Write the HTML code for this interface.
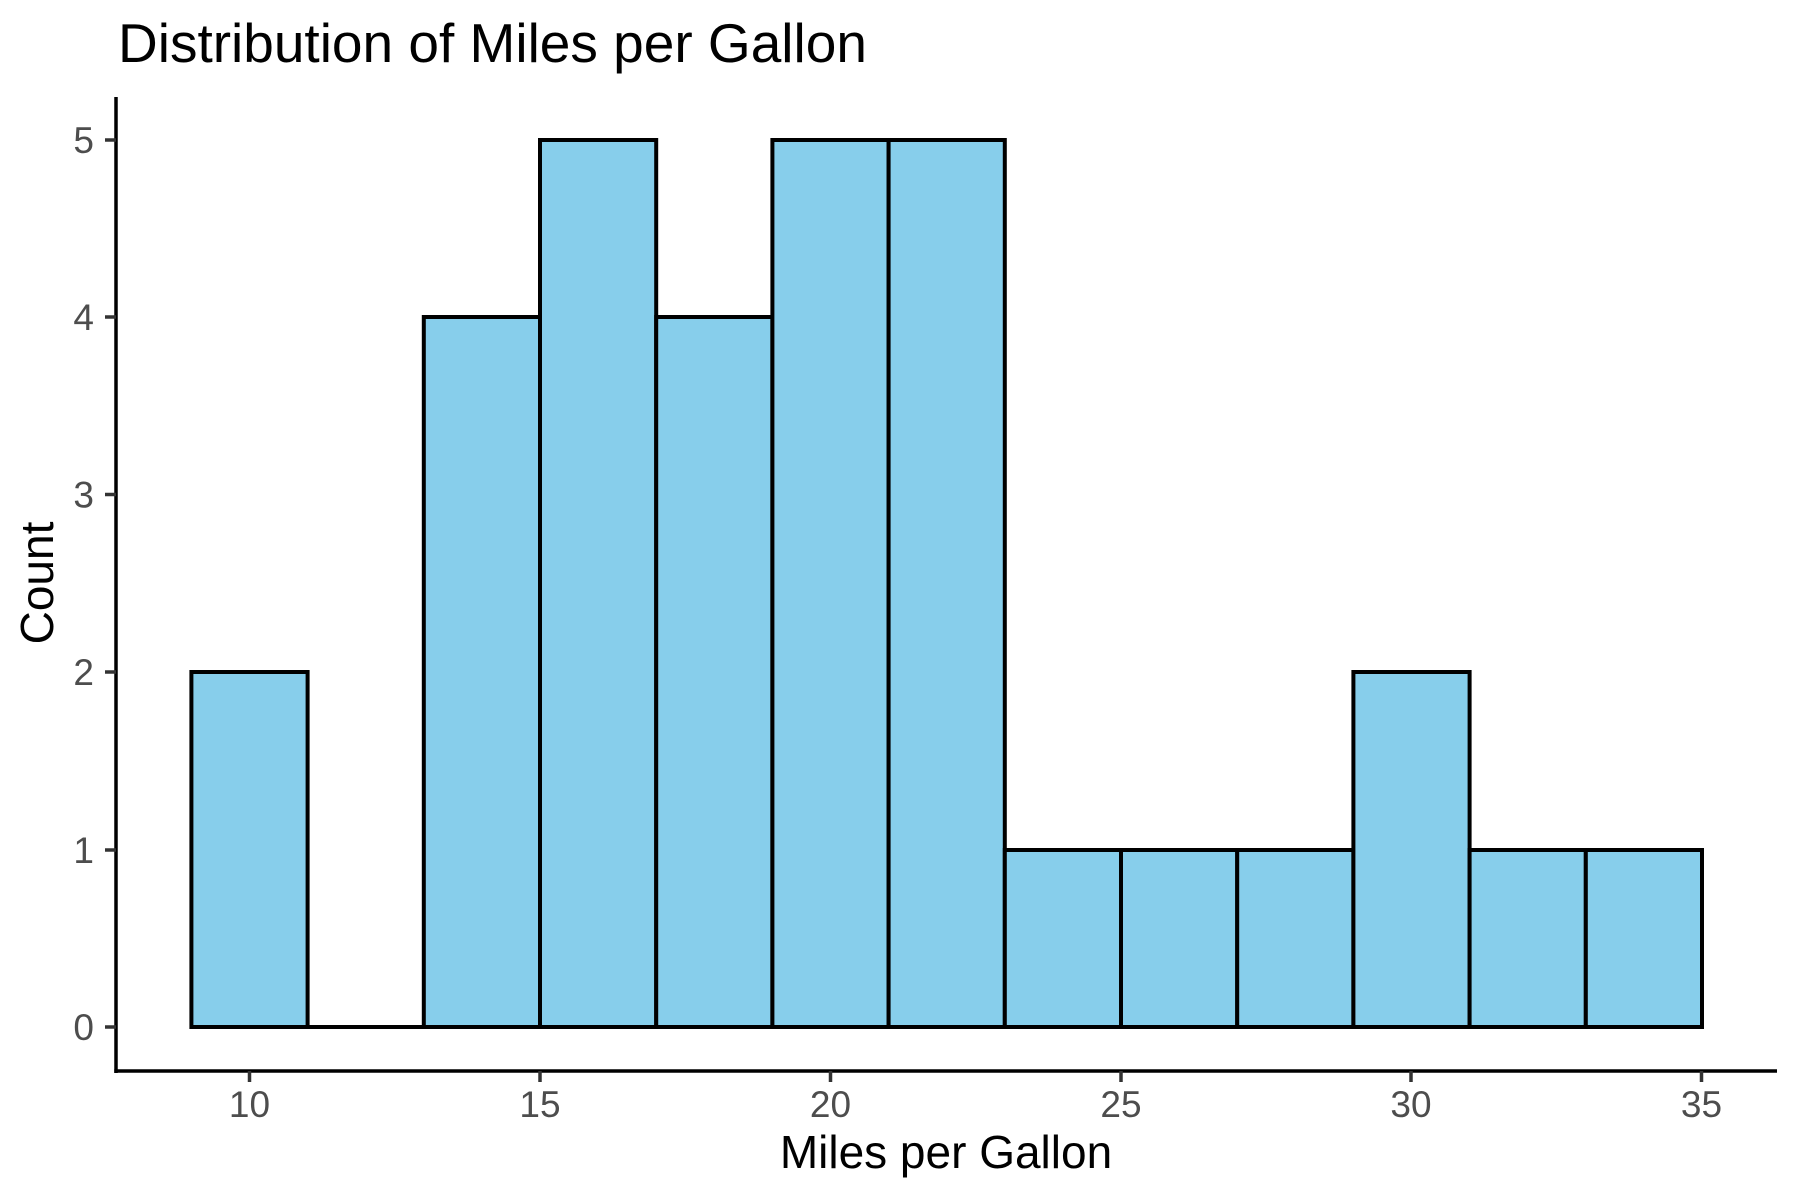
<!DOCTYPE html>
<html><head><meta charset="utf-8"><style>
html,body{margin:0;padding:0;background:#fff;}
svg{display:block;font-family:"Liberation Sans",Arial,sans-serif;}
</style></head><body>
<svg width="1800" height="1200" viewBox="0 0 1800 1200" xmlns="http://www.w3.org/2000/svg">
<rect width="1800" height="1200" fill="#fff"/>
<text x="118" y="62" font-size="55" fill="#000">Distribution of Miles per Gallon</text>
<g fill="#87CEEB" stroke="#000" stroke-width="4">
<rect x="191.4" y="672" width="116.2" height="355"/>
<rect x="423.8" y="317" width="116.2" height="710"/>
<rect x="540" y="140" width="116.2" height="887"/>
<rect x="656.2" y="317" width="116.2" height="710"/>
<rect x="772.4" y="140" width="116.2" height="887"/>
<rect x="888.6" y="140" width="116.2" height="887"/>
<rect x="1004.8" y="850" width="116.2" height="177"/>
<rect x="1121" y="850" width="116.2" height="177"/>
<rect x="1237.2" y="850" width="116.2" height="177"/>
<rect x="1353.4" y="672" width="116.2" height="355"/>
<rect x="1469.6" y="850" width="116.2" height="177"/>
<rect x="1585.8" y="850" width="116.2" height="177"/>
</g>
<line x1="307.6" y1="1027" x2="423.8" y2="1027" stroke="#000" stroke-width="4"/>
<line x1="116" y1="97" x2="116" y2="1073" stroke="#000" stroke-width="3.5"/>
<line x1="114.3" y1="1071" x2="1777" y2="1071" stroke="#000" stroke-width="3.5"/>
<g stroke="#333" stroke-width="3.5">
<line x1="105" y1="1027" x2="116" y2="1027"/>
<line x1="105" y1="850" x2="116" y2="850"/>
<line x1="105" y1="672" x2="116" y2="672"/>
<line x1="105" y1="494.5" x2="116" y2="494.5"/>
<line x1="105" y1="317" x2="116" y2="317"/>
<line x1="105" y1="140" x2="116" y2="140"/>
<line x1="249.5" y1="1071" x2="249.5" y2="1082"/>
<line x1="540" y1="1071" x2="540" y2="1082"/>
<line x1="830.5" y1="1071" x2="830.5" y2="1082"/>
<line x1="1121" y1="1071" x2="1121" y2="1082"/>
<line x1="1411" y1="1071" x2="1411" y2="1082"/>
<line x1="1701.5" y1="1071" x2="1701.5" y2="1082"/>
</g>
<g font-size="37" fill="#4d4d4d" text-anchor="end">
<text x="94" y="1040">0</text>
<text x="94" y="863">1</text>
<text x="94" y="685">2</text>
<text x="94" y="507.5">3</text>
<text x="94" y="330">4</text>
<text x="94" y="153">5</text>
</g>
<g font-size="37" fill="#4d4d4d" text-anchor="middle">
<text x="249.5" y="1117">10</text>
<text x="540" y="1117">15</text>
<text x="830.5" y="1117">20</text>
<text x="1121" y="1117">25</text>
<text x="1411" y="1117">30</text>
<text x="1701.5" y="1117">35</text>
</g>
<text x="946" y="1168" font-size="46" text-anchor="middle" fill="#000">Miles per Gallon</text>
<text transform="translate(53,583) rotate(-90)" font-size="46" text-anchor="middle" fill="#000">Count</text>
</svg>
</body></html>
